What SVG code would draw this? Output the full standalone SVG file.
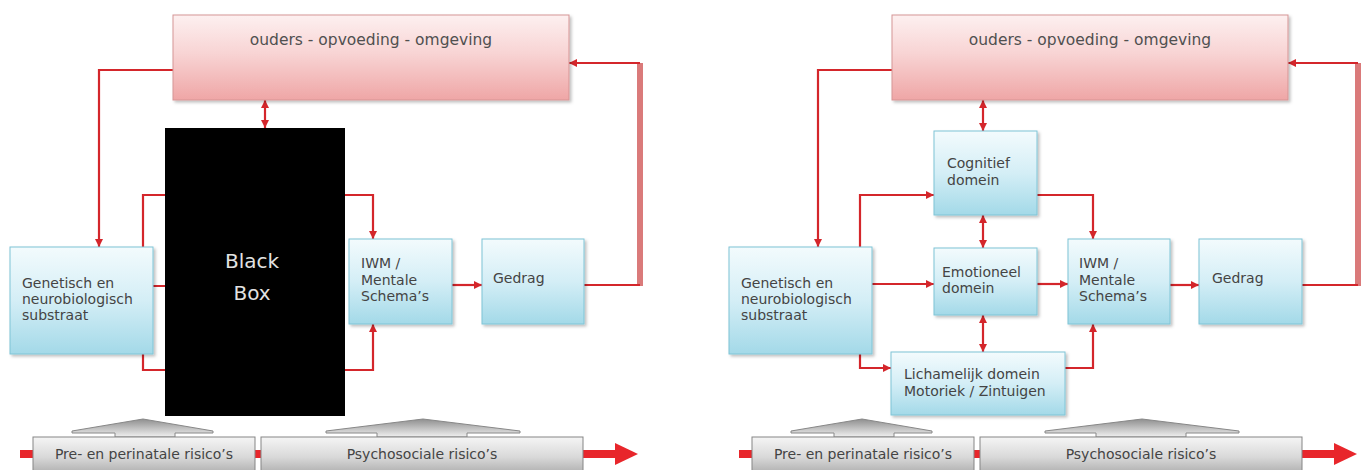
<svg xmlns="http://www.w3.org/2000/svg" width="1362" height="470" viewBox="0 0 1362 470">
<defs>
  <linearGradient id="gPink" x1="0" y1="0" x2="0" y2="1">
    <stop offset="0" stop-color="#fdf0f0"/>
    <stop offset="0.45" stop-color="#f8d4d4"/>
    <stop offset="1" stop-color="#efa6a6"/>
  </linearGradient>
  <linearGradient id="gBlue" x1="0" y1="0" x2="0" y2="1">
    <stop offset="0" stop-color="#f3fbfd"/>
    <stop offset="0.5" stop-color="#d4eef6"/>
    <stop offset="1" stop-color="#a3d9e8"/>
  </linearGradient>
  <linearGradient id="gGray" x1="0" y1="0" x2="0" y2="1">
    <stop offset="0" stop-color="#f5f5f5"/>
    <stop offset="0.5" stop-color="#d9d9d9"/>
    <stop offset="1" stop-color="#a6a6a6"/>
  </linearGradient>
  <linearGradient id="gHat" x1="0" y1="0" x2="0" y2="1">
    <stop offset="0" stop-color="#8f8f8f"/>
    <stop offset="1" stop-color="#f0f0f0"/>
  </linearGradient>
  <filter id="sh" x="-10%" y="-10%" width="125%" height="130%">
    <feDropShadow dx="2" dy="2" stdDeviation="1.5" flood-color="#000" flood-opacity="0.25"/>
  </filter>
  <marker id="ah" viewBox="0 0 10 10" refX="10" refY="5" markerWidth="8" markerHeight="8" orient="auto-start-reverse" markerUnits="userSpaceOnUse">
    <path d="M0,0 L10,5 L0,10 z" fill="#d4262b"/>
  </marker>
  <style>
    .pink{fill:url(#gPink);stroke:#d69595;stroke-width:1;filter:url(#sh)}
    .blue{fill:url(#gBlue);stroke:#7fc4d6;stroke-width:1;filter:url(#sh)}
    .gray{fill:url(#gGray);stroke:#858585;stroke-width:1}
    .hat{fill:url(#gHat);stroke:#888;stroke-width:1}
    .t{font-family:"DejaVu Sans",Verdana,sans-serif;font-size:14px;fill:#444}
    .tc{text-anchor:middle}
    .top{font-size:15.5px;fill:#505050}
    .bb{font-family:"DejaVu Sans",Verdana,sans-serif;font-size:20px;fill:#e2e2e2;text-anchor:middle}
    .c{fill:none;stroke:#d4262b;stroke-width:2.2}
    .band{fill:none;stroke:#da7a7a;stroke-width:6}
    .timeline{stroke:#e8262b;stroke-width:8}
  </style>
</defs>
<rect width="1362" height="470" fill="#ffffff"/>

<!-- ===== Left panel ===== -->
<g id="L-timeline">
  <line class="timeline" x1="20" y1="454" x2="620" y2="454"/>
  <polygon points="615,443 638,454 615,465" fill="#e8262b"/>
</g>

<g id="L-connectors">
  <path class="c" d="M173,70 H99 V247" marker-end="url(#ah)"/>
  <path class="c" d="M265,100 V128" marker-start="url(#ah)" marker-end="url(#ah)"/>
  <path class="c" d="M143,247 V195 H200"/>
  <path class="c" d="M300,195 H373 V239" marker-end="url(#ah)"/>
  <path class="c" d="M153,286 H200"/>
  <path class="c" d="M143,354 V370 H200"/>
  <path class="c" d="M300,370 H373 V324" marker-end="url(#ah)"/>
  <path class="c" d="M452,285 H482" marker-end="url(#ah)"/>
  <path class="band" d="M640,63 V286"/>
  <path class="c" d="M584,285 H640 M640,63 H569" marker-end="url(#ah)"/>
</g>

<g id="L-ouders">
  <rect class="pink" x="173" y="15" width="396" height="85"/>
  <text class="t tc top" x="371" y="45">ouders - opvoeding - omgeving</text>
</g>
<g id="L-genetisch">
  <rect class="blue" x="10" y="247" width="143" height="107"/>
  <text class="t" x="22" y="288">Genetisch en</text>
  <text class="t" x="22" y="304">neurobiologisch</text>
  <text class="t" x="22" y="320">substraat</text>
</g>
<g id="L-blackbox">
  <rect x="165" y="128" width="180" height="288" fill="#000"/>
  <text class="bb" x="252" y="268">Black</text>
  <text class="bb" x="252" y="300">Box</text>
</g>
<g id="L-iwm">
  <rect class="blue" x="349" y="239" width="103" height="85"/>
  <text class="t" x="361" y="268">IWM /</text>
  <text class="t" x="361" y="285">Mentale</text>
  <text class="t" x="361" y="301">Schema’s</text>
</g>
<g id="L-gedrag">
  <rect class="blue" x="482" y="239" width="102" height="85"/>
  <text class="t" x="493" y="283">Gedrag</text>
</g>
<g id="L-pre">
  <polygon class="hat" points="72,431 143,419 213,431 213,433 175,433 175,437 115,437 115,433 72,433"/>
  <rect class="gray" x="33" y="437" width="222" height="40"/>
  <text class="t tc" x="144" y="459">Pre- en perinatale risico’s</text>
</g>
<g id="L-psycho">
  <polygon class="hat" points="326,431 423,419 520,431 520,433 467,433 467,437 377,437 377,433 326,433"/>
  <rect class="gray" x="261" y="437" width="322" height="40"/>
  <text class="t tc" x="422" y="459">Psychosociale risico’s</text>
</g>

<!-- ===== Right panel ===== -->
<g id="R-timeline">
  <line class="timeline" x1="739" y1="454" x2="1339" y2="454"/>
  <polygon points="1334,443 1357,454 1334,465" fill="#e8262b"/>
</g>

<g id="R-connectors">
  <path class="c" d="M892,70 H818 V247" marker-end="url(#ah)"/>
  <path class="c" d="M983,100 V131" marker-start="url(#ah)" marker-end="url(#ah)"/>
  <path class="c" d="M860,247 V195 H934" marker-end="url(#ah)"/>
  <path class="c" d="M1037,195 H1093 V239" marker-end="url(#ah)"/>
  <path class="c" d="M872,284 H934" marker-end="url(#ah)"/>
  <path class="c" d="M983,215 V248" marker-start="url(#ah)" marker-end="url(#ah)"/>
  <path class="c" d="M1037,284 H1068" marker-end="url(#ah)"/>
  <path class="c" d="M983,315 V352" marker-start="url(#ah)" marker-end="url(#ah)"/>
  <path class="c" d="M860,354 V368 H891" marker-end="url(#ah)"/>
  <path class="c" d="M1065,368 H1093 V324" marker-end="url(#ah)"/>
  <path class="c" d="M1170,285 H1199" marker-end="url(#ah)"/>
  <path class="band" d="M1358,63 V286"/>
  <path class="c" d="M1302,285 H1358 M1358,63 H1288" marker-end="url(#ah)"/>
</g>

<g id="R-ouders">
  <rect class="pink" x="892" y="15" width="396" height="85"/>
  <text class="t tc top" x="1090" y="45">ouders - opvoeding - omgeving</text>
</g>
<g id="R-genetisch">
  <rect class="blue" x="729" y="247" width="143" height="107"/>
  <text class="t" x="741" y="288">Genetisch en</text>
  <text class="t" x="741" y="304">neurobiologisch</text>
  <text class="t" x="741" y="320">substraat</text>
</g>
<g id="R-cognitief">
  <rect class="blue" x="934" y="131" width="103" height="84"/>
  <text class="t" x="947" y="168">Cognitief</text>
  <text class="t" x="947" y="185">domein</text>
</g>
<g id="R-emotioneel">
  <rect class="blue" x="934" y="248" width="103" height="67"/>
  <text class="t" x="942" y="277">Emotioneel</text>
  <text class="t" x="942" y="293">domein</text>
</g>
<g id="R-lichamelijk">
  <rect class="blue" x="891" y="352" width="174" height="63"/>
  <text class="t" x="904" y="379">Lichamelijk domein</text>
  <text class="t" x="904" y="396">Motoriek / Zintuigen</text>
</g>
<g id="R-iwm">
  <rect class="blue" x="1068" y="239" width="102" height="85"/>
  <text class="t" x="1079" y="268">IWM /</text>
  <text class="t" x="1079" y="285">Mentale</text>
  <text class="t" x="1079" y="301">Schema’s</text>
</g>
<g id="R-gedrag">
  <rect class="blue" x="1199" y="239" width="103" height="85"/>
  <text class="t" x="1212" y="283">Gedrag</text>
</g>
<g id="R-pre">
  <polygon class="hat" points="791,431 862,419 932,431 932,433 894,433 894,437 834,437 834,433 791,433"/>
  <rect class="gray" x="752" y="437" width="222" height="40"/>
  <text class="t tc" x="863" y="459">Pre- en perinatale risico’s</text>
</g>
<g id="R-psycho">
  <polygon class="hat" points="1045,431 1142,419 1239,431 1239,433 1186,433 1186,437 1096,437 1096,433 1045,433"/>
  <rect class="gray" x="980" y="437" width="322" height="40"/>
  <text class="t tc" x="1141" y="459">Psychosociale risico’s</text>
</g>
</svg>
